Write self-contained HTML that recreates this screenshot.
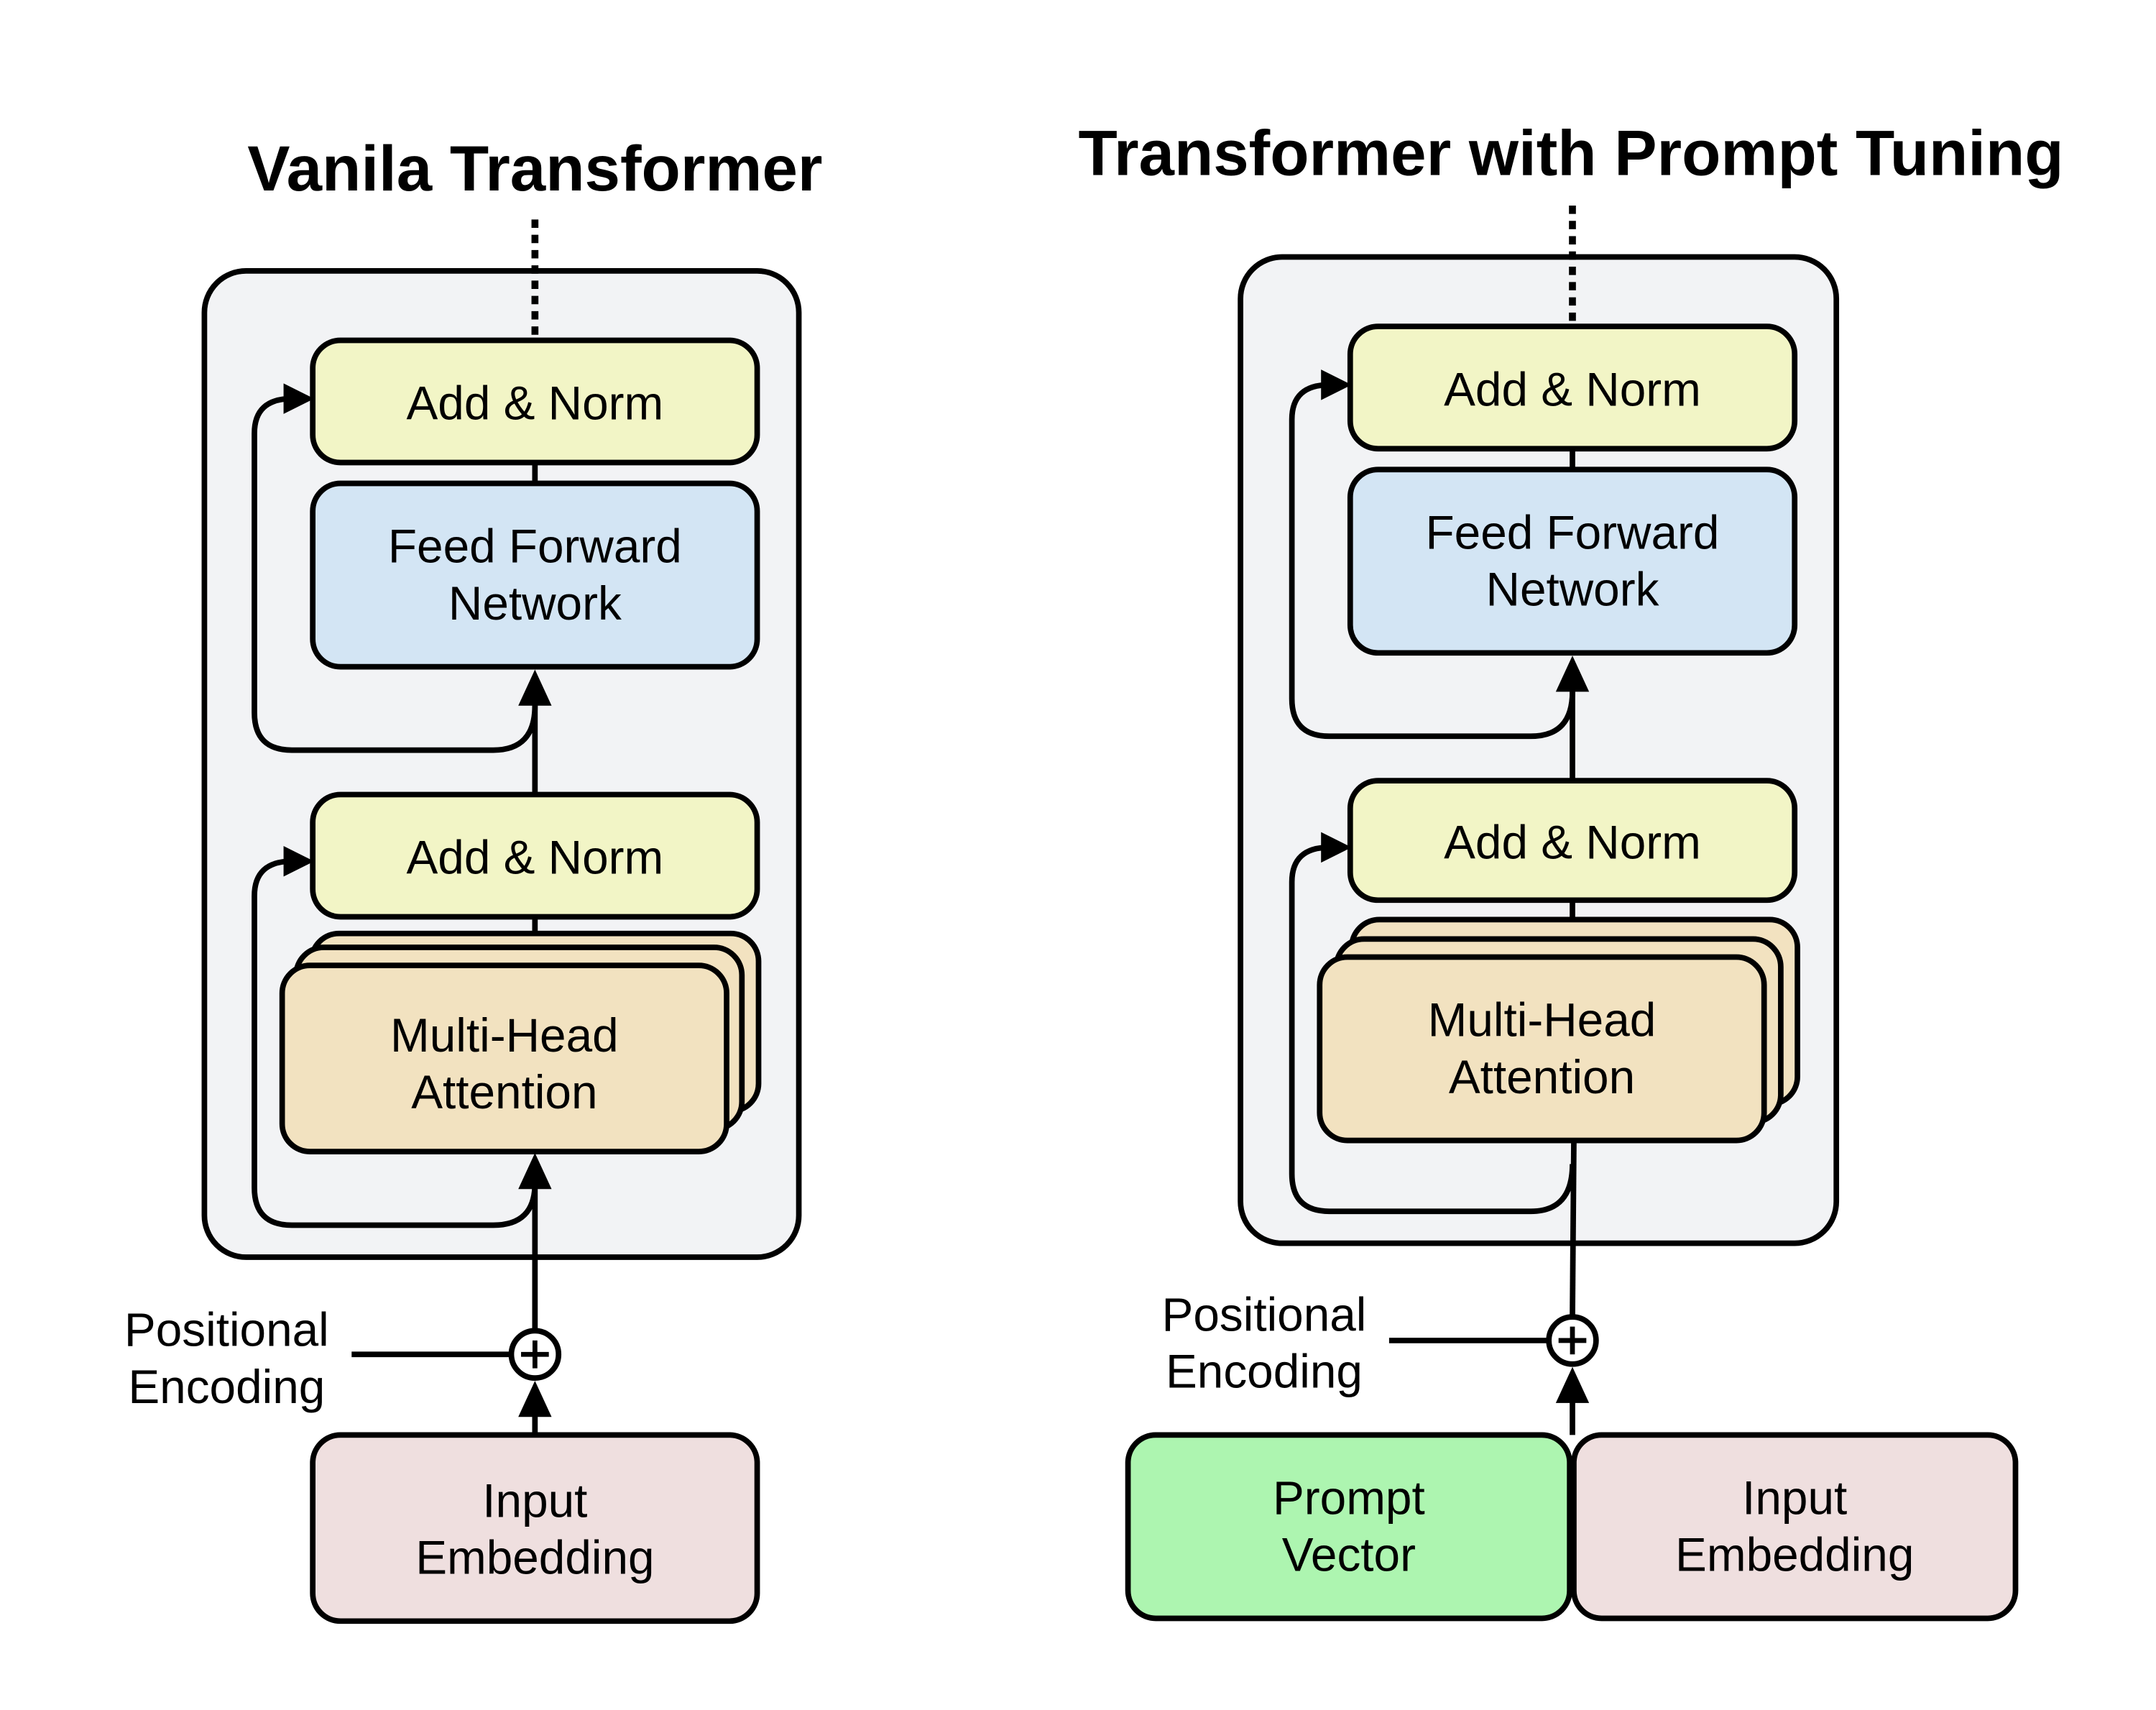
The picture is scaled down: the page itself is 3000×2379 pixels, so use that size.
<!DOCTYPE html>
<html><head><meta charset="utf-8"><style>
html,body{margin:0;padding:0;background:#fff;}
svg{display:block;}
text{font-family:"Liberation Sans","DejaVu Sans",sans-serif;fill:#000;}
</style></head><body>
<svg width="3000" height="2379" viewBox="0 0 1552 1231" xmlns="http://www.w3.org/2000/svg">
<rect width="1552" height="1231" fill="#fff"/>

<!-- LEFT -->
<text x="385" y="137" font-size="46" font-weight="bold" text-anchor="middle">Vanila Transformer</text>
<rect x="147" y="195" width="428" height="710" rx="30" fill="#f2f3f5" stroke="#000" stroke-width="4"/>
<line x1="385" y1="158" x2="385" y2="244" stroke="#000" stroke-width="5" stroke-dasharray="6,5"/>

<line x1="385" y1="333" x2="385" y2="348" stroke="#000" stroke-width="4"/>
<rect x="225" y="245" width="320" height="88" rx="20" fill="#f2f5c6" stroke="#000" stroke-width="4"/>
<text x="385" y="302" font-size="34" text-anchor="middle">Add &amp; Norm</text>

<rect x="225" y="348" width="320" height="132" rx="20" fill="#d3e5f4" stroke="#000" stroke-width="4"/>
<text x="385" y="405" font-size="34" text-anchor="middle">Feed Forward</text>
<text x="385" y="446" font-size="34" text-anchor="middle">Network</text>

<line x1="385" y1="572" x2="385" y2="505" stroke="#000" stroke-width="4"/>
<polygon points="385,482 373,508 397,508" fill="#000"/>
<path d="M385,508 Q385,540 355,540 L210,540 Q183,540 183,513 L183,312 Q183,287 210,287 L212,287" fill="none" stroke="#000" stroke-width="4"/>
<polygon points="226,287 204,276 204,298" fill="#000"/>

<line x1="385" y1="660" x2="385" y2="675" stroke="#000" stroke-width="4"/>
<rect x="225" y="572" width="320" height="88" rx="20" fill="#f2f5c6" stroke="#000" stroke-width="4"/>
<text x="385" y="629" font-size="34" text-anchor="middle">Add &amp; Norm</text>

<rect x="224" y="672" width="322" height="128" rx="20" fill="#f2e2c0" stroke="#000" stroke-width="4"/>
<rect x="213" y="682" width="321" height="131" rx="20" fill="#f2e2c0" stroke="#000" stroke-width="4"/>
<rect x="203" y="695" width="320" height="134" rx="20" fill="#f2e2c0" stroke="#000" stroke-width="4"/>
<text x="363" y="757" font-size="34" text-anchor="middle">Multi-Head</text>
<text x="363" y="798" font-size="34" text-anchor="middle">Attention</text>

<line x1="385" y1="958" x2="385" y2="852" stroke="#000" stroke-width="4"/>
<polygon points="385,830 373,856 397,856" fill="#000"/>
<path d="M385,852 Q385,882 355,882 L210,882 Q183,882 183,855 L183,645 Q183,620 210,620 L212,620" fill="none" stroke="#000" stroke-width="4"/>
<polygon points="226,620 204,609 204,631" fill="#000"/>

<line x1="253" y1="975" x2="368" y2="975" stroke="#000" stroke-width="4"/>
<circle cx="385" cy="975" r="17" fill="#fff" stroke="#000" stroke-width="4"/>
<line x1="375" y1="975" x2="395" y2="975" stroke="#000" stroke-width="3.5"/>
<line x1="385" y1="965" x2="385" y2="985" stroke="#000" stroke-width="3.5"/>
<text x="163" y="969" font-size="34" text-anchor="middle">Positional</text>
<text x="163" y="1010" font-size="34" text-anchor="middle">Encoding</text>

<line x1="385" y1="1033" x2="385" y2="1015" stroke="#000" stroke-width="4"/>
<polygon points="385,994 373,1020 397,1020" fill="#000"/>
<rect x="225" y="1033" width="320" height="134" rx="20" fill="#efdfdf" stroke="#000" stroke-width="4"/>
<text x="385" y="1092" font-size="34" text-anchor="middle">Input</text>
<text x="385" y="1133" font-size="34" text-anchor="middle">Embedding</text>

<!-- RIGHT -->
<text x="1131" y="126" font-size="46" font-weight="bold" text-anchor="middle">Transformer with Prompt Tuning</text>
<rect x="893" y="185" width="429" height="710" rx="30" fill="#f2f3f5" stroke="#000" stroke-width="4"/>
<line x1="1132" y1="148" x2="1132" y2="234" stroke="#000" stroke-width="5" stroke-dasharray="6,5"/>

<line x1="1132" y1="323" x2="1132" y2="338" stroke="#000" stroke-width="4"/>
<rect x="972" y="235" width="320" height="88" rx="20" fill="#f2f5c6" stroke="#000" stroke-width="4"/>
<text x="1132" y="292" font-size="34" text-anchor="middle">Add &amp; Norm</text>

<rect x="972" y="338" width="320" height="132" rx="20" fill="#d3e5f4" stroke="#000" stroke-width="4"/>
<text x="1132" y="395" font-size="34" text-anchor="middle">Feed Forward</text>
<text x="1132" y="436" font-size="34" text-anchor="middle">Network</text>

<line x1="1132" y1="562" x2="1132" y2="495" stroke="#000" stroke-width="4"/>
<polygon points="1132,472 1120,498 1144,498" fill="#000"/>
<path d="M1132,498 Q1132,530 1102,530 L957,530 Q930,530 930,503 L930,302 Q930,277 957,277 L959,277" fill="none" stroke="#000" stroke-width="4"/>
<polygon points="973,277 951,266 951,288" fill="#000"/>

<line x1="1132" y1="648" x2="1132" y2="663" stroke="#000" stroke-width="4"/>
<rect x="972" y="562" width="320" height="86" rx="20" fill="#f2f5c6" stroke="#000" stroke-width="4"/>
<text x="1132" y="618" font-size="34" text-anchor="middle">Add &amp; Norm</text>

<rect x="973" y="662" width="321" height="133" rx="20" fill="#f2e2c0" stroke="#000" stroke-width="4"/>
<rect x="962" y="676" width="320" height="132" rx="20" fill="#f2e2c0" stroke="#000" stroke-width="4"/>
<rect x="950" y="689" width="320" height="132" rx="20" fill="#f2e2c0" stroke="#000" stroke-width="4"/>
<text x="1110" y="746" font-size="34" text-anchor="middle">Multi-Head</text>
<text x="1110" y="787" font-size="34" text-anchor="middle">Attention</text>

<path d="M1133,823 L1132,948" fill="none" stroke="#000" stroke-width="4"/>
<path d="M1132,838 Q1132,872 1102,872 L957,872 Q930,872 930,845 L930,635 Q930,610 957,610 L959,610" fill="none" stroke="#000" stroke-width="4"/>
<polygon points="973,610 951,599 951,621" fill="#000"/>

<line x1="1000" y1="965" x2="1115" y2="965" stroke="#000" stroke-width="4"/>
<circle cx="1132" cy="965" r="17" fill="#fff" stroke="#000" stroke-width="4"/>
<line x1="1122" y1="965" x2="1142" y2="965" stroke="#000" stroke-width="3.5"/>
<line x1="1132" y1="955" x2="1132" y2="975" stroke="#000" stroke-width="3.5"/>
<text x="910" y="958" font-size="34" text-anchor="middle">Positional</text>
<text x="910" y="999" font-size="34" text-anchor="middle">Encoding</text>

<line x1="1132" y1="1033" x2="1132" y2="1005" stroke="#000" stroke-width="4"/>
<polygon points="1132,984 1120,1010 1144,1010" fill="#000"/>
<rect x="812" y="1033" width="318" height="132" rx="20" fill="#adf5b0" stroke="#000" stroke-width="4"/>
<text x="971" y="1090" font-size="34" text-anchor="middle">Prompt</text>
<text x="971" y="1131" font-size="34" text-anchor="middle">Vector</text>
<rect x="1133" y="1033" width="318" height="132" rx="20" fill="#efdfdf" stroke="#000" stroke-width="4"/>
<text x="1292" y="1090" font-size="34" text-anchor="middle">Input</text>
<text x="1292" y="1131" font-size="34" text-anchor="middle">Embedding</text>
</svg>
</body></html>
